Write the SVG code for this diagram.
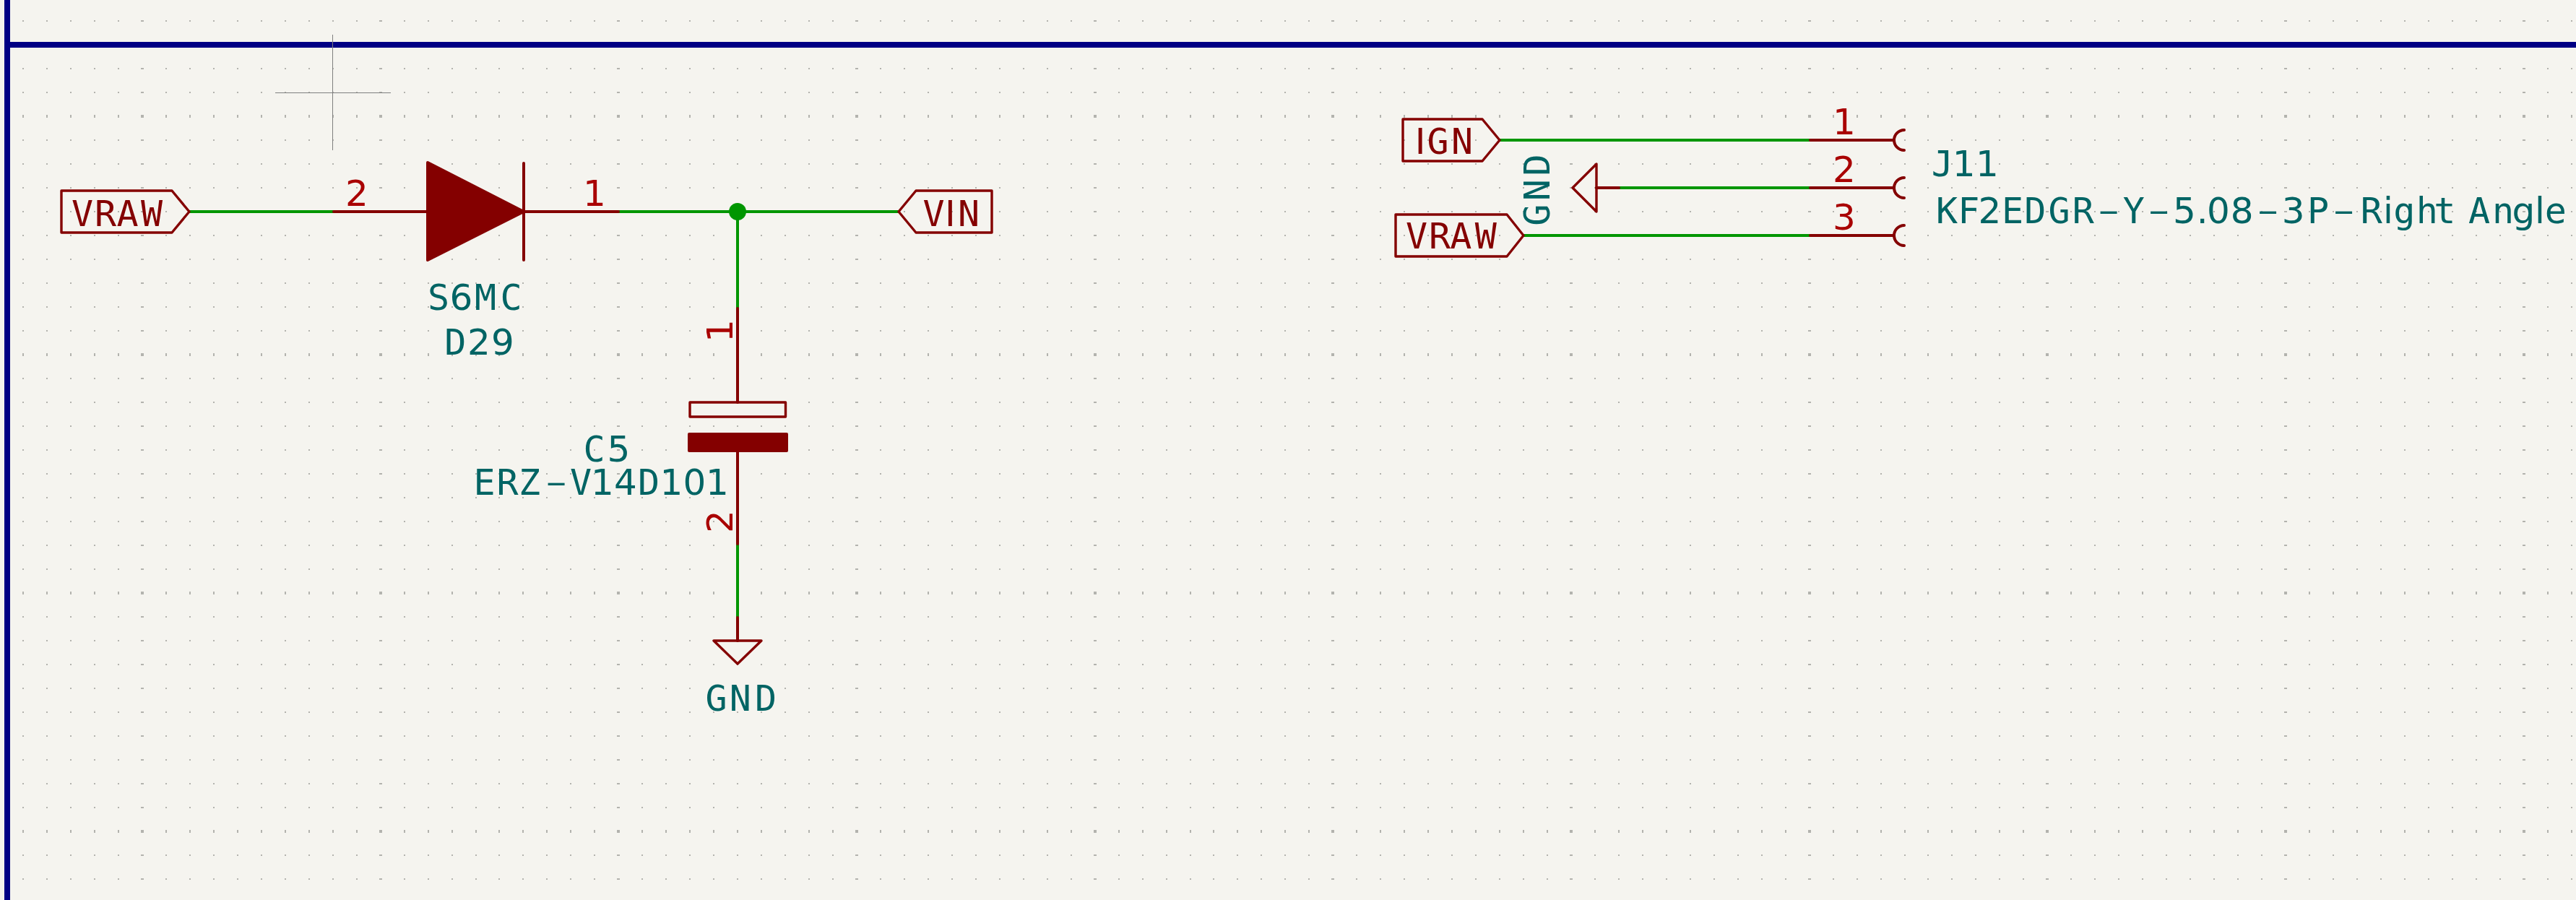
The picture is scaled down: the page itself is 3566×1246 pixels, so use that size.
<svg xmlns="http://www.w3.org/2000/svg" width="3566" height="1246" viewBox="0 0 3566 1246">
<style>
text{font-family:"DejaVu Sans Mono","Liberation Mono",monospace;font-size:50px;text-anchor:middle;white-space:pre}
tspan{font-family:"DejaVu Sans","Liberation Sans",sans-serif}
tspan.h{font-family:"Inter","DejaVu Sans",sans-serif;font-size:80px;font-weight:200}
.t{fill:#006464}
.l{fill:#840000}
.n{fill:#a90000;font-family:"DejaVu Sans","Liberation Sans",sans-serif}
.s{fill:none;stroke:#840000;stroke-width:3.4;stroke-linejoin:round;stroke-linecap:round}
.p{fill:none;stroke:#840000;stroke-width:4;stroke-linecap:round}
.w{fill:none;stroke:#009600;stroke-width:4}
.f{fill:#840000}
</style>
<defs>
<path id="tile" d="M31 28h2v2h-2zm33 0h2v2h-2zm33 0h2v2h-2zm33 0h2v2h-2zm33 0h2v2h-2zm32 0h4v2h-4zm34 0h2v2h-2zm33 0h2v2h-2zm33 0h2v2h-2zm33 0h2v2h-2z"/>
<g id="row">
<use href="#tile"/><use href="#tile" x="330"/><use href="#tile" x="659"/><use href="#tile" x="989"/><use href="#tile" x="1319"/><use href="#tile" x="1648"/><use href="#tile" x="1978"/><use href="#tile" x="2308"/><use href="#tile" x="2637"/><use href="#tile" x="2967"/><use href="#tile" x="3297"/>
</g>
<g id="block">
<use href="#row"/><use href="#row" y="33"/><use href="#row" y="66"/><use href="#row" y="99"/><use href="#row" y="131"/><use href="#row" y="133"/><use href="#row" y="165"/><use href="#row" y="198"/><use href="#row" y="231"/><use href="#row" y="264"/><use href="#row" y="297"/>
</g>
</defs>
<rect width="3566" height="1246" fill="#f5f4ef"/>
<g id="grid" fill="#b3b3ae">
<use href="#block"/><use href="#block" y="330"/><use href="#block" y="660"/><use href="#row" y="990"/><use href="#row" y="1023"/><use href="#row" y="1056"/><use href="#row" y="1089"/><use href="#row" y="1121"/><use href="#row" y="1123"/><use href="#row" y="1155"/><use href="#row" y="1188"/>
</g>
<g id="frame">
<path d="M10 0V1246M10 62H3566" fill="none" stroke="#000084" stroke-width="8"/>
</g>
<g id="cursor">
<path d="M460.5 48V208M381 128.5H541" fill="none" stroke="#7f7f7f" stroke-width="1"/>
</g>
<g id="connectors">
<path class="w" d="M262 293H462"/>
<path class="w" d="M856 293H1244"/>
<path class="w" d="M1021 293V427"/>
<path class="w" d="M1021 753V855"/>
<path class="w" d="M2076 194H2506"/>
<path class="w" d="M2241 260H2506"/>
<path class="w" d="M2109 326H2506"/>
</g>
<g id="junction"><circle cx="1021" cy="293" r="12" fill="#009600"/></g>
<g id="label-vraw-1">
<path class="s" d="M85 264H238L262 293L238 322H85Z"/>
<text class="l" x="114 146 176.500 210" y="312.700">VRAW</text>
</g>
<g id="D29">
<path class="p" d="M462 293H592M725 293H856M725 226V360"/>
<path class="f" stroke="#840000" stroke-width="4" stroke-linejoin="round" d="M592 225L725 293L592 360Z"/>
<text class="n" x="494" y="285">2</text>
<text class="n" x="823" y="285">1</text>
<text class="t" x="607 638.500 672 707.500" y="429">S<tspan>6</tspan>MC</text>
<text class="t" x="630.300 662.800 696" y="490.500">D<tspan>29</tspan></text>
</g>
<g id="label-vin">
<path class="s" d="M1244 293L1268 264H1373V322H1268Z"/>
<text class="l" x="1292.500 1315.300 1341" y="312.700">V<tspan>I</tspan>N</text>
</g>
<g id="C5">
<path class="p" d="M1021 427V557M1021 625V753"/>
<rect class="s" x="955" y="557" width="132.500" height="20"/>
<rect class="f" x="952" y="599" width="139" height="27" rx="2"/>
<text class="n" transform="translate(1014 458) rotate(-90)">1</text>
<text class="n" transform="translate(1014 722) rotate(-90)">2</text>
<text class="t" x="822.500 856.500" y="639">C<tspan>5</tspan></text>
<text class="t" x="670.500 702.500 733 770 804 834 866 898 929.500 961.500 993" y="685 685 685 695 685">ERZ<tspan class="h">-</tspan>V<tspan>14</tspan>D<tspan>101</tspan></text>
</g>
<g id="GND-1">
<path class="p" d="M1021 855V887"/>
<path class="s" d="M988 887H1054L1021 919Z"/>
<text class="t" x="991.500 1024.700 1060" y="984">GND</text>
</g>
<g id="label-ign">
<path class="s" d="M1942 165H2052L2076 194L2052 223H1942Z"/>
<text class="l" x="1966 1990.500 2024" y="213.300"><tspan>I</tspan>GN</text>
</g>
<g id="label-vraw-2">
<path class="s" d="M1932 297H2086L2109 326L2086 355H1932Z"/>
<text class="l" x="1961 1993 2022.400 2056.700" y="344.300">VRAW</text>
</g>
<g id="GND-2">
<path class="p" d="M2210 260H2241"/>
<path class="s" d="M2210 227V293L2177 260Z"/>
<text class="t" transform="translate(2145 0) rotate(-90)" x="-297.800 -263.300 -228.500" y="0">GND</text>
</g>
<g id="J11">
<path class="p" d="M2506 194H2622M2506 260H2622M2506 326H2622"/>
<path class="p" d="M2636 180A14 14 0 0 0 2636 208M2636 246A14 14 0 0 0 2636 274M2636 312A14 14 0 0 0 2636 340"/>
<text class="n" x="2553" y="186">1</text>
<text class="n" x="2553" y="252">2</text>
<text class="n" x="2553" y="318">3</text>
<text class="t" x="2688.700 2718.700 2751" y="244">J<tspan>11</tspan></text>
<text class="t" x="2695 2725.300 2754.300 2786 2817.300 2850.500 2883.700 2919 2953.700 2988.700 3024 3048.700 3071 3103.700 3139.700 3174.700 3209 3244.500 3282.700 3306 3328.300 3359.700 3384.300 3405 3432 3465 3493.300 3516 3537.700" y="309.300 309.300 309.300 309.300 309.300 309.300 309.300 319.300 309.300 319.300 309.300 309.300 309.300 309.300 319.300 309.300 309.300 319.300 309.300">KF<tspan>2</tspan>EDGR<tspan class="h">-</tspan>Y<tspan class="h">-</tspan><tspan>5.08</tspan><tspan class="h">-</tspan><tspan>3</tspan>P<tspan class="h">-</tspan>R<tspan>i</tspan>ght An<tspan>g</tspan><tspan>l</tspan>e</text>
</g>
</svg>
